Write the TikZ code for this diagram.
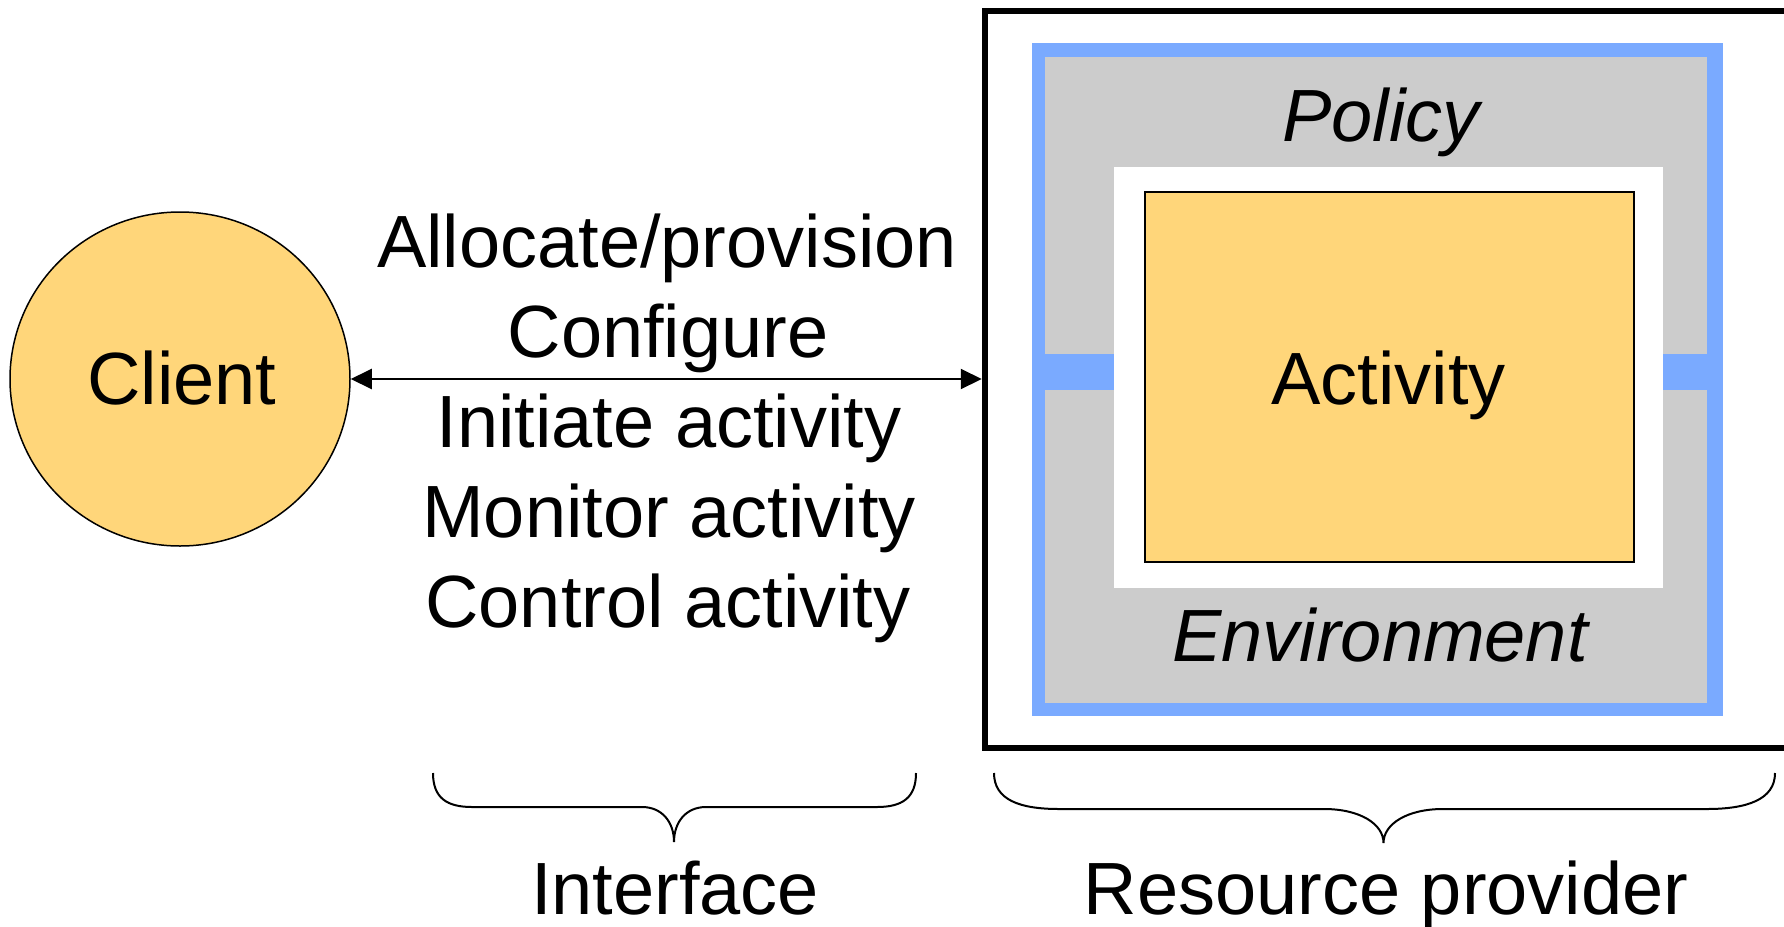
\documentclass[tikz,border=0pt]{standalone}
\usepackage{fontspec}
\setmainfont{Liberation Sans}
\usetikzlibrary{shapes.geometric,arrows.meta}
\definecolor{orng}{RGB}{255,214,122}
\definecolor{lblue}{RGB}{122,170,255}
\definecolor{lgray}{RGB}{204,204,204}
\begin{document}
\begin{tikzpicture}[x=1pt,y=-1pt,
  lbl/.style={inner sep=0pt, anchor=base, font=\fontsize{74}{90}\selectfont},
  ilbl/.style={lbl, font=\fontsize{74}{90}\selectfont\itshape},
  flat/.style={rectangle, inner sep=0pt, outer sep=0pt},
  bracepath/.style={line width=2pt},
  >={Triangle[length=21pt,width=20pt]}]
\useasboundingbox (0,0) rectangle (1784,926);
% client
\node[ellipse, draw, line width=1.5pt, fill=orng, minimum width=340pt, minimum height=334pt, inner sep=0pt] (client) at (180,379) {};
\node[lbl] (clientlbl) at (182,404) {Client};
% resource provider
\node[flat, draw, line width=6.5pt, outer sep=3.25pt, minimum width=802pt, minimum height=737pt] (frame) at (1386,379.5) {};
\node[flat, fill=lblue, minimum width=691pt, minimum height=673pt] (band) at (1377.5,379.5) {};
\node[flat, fill=lgray, minimum width=662pt, minimum height=646pt] (envbox) at (1376,380) {};
\node[flat, fill=lblue, minimum width=662pt, minimum height=36pt] (bar) at (1376,372) {};
\node[flat, fill=white, minimum width=549pt, minimum height=421pt] (hole) at (1388.5,377.5) {};
\node[flat, draw, line width=1.5pt, fill=orng, minimum width=489pt, minimum height=370pt] (activity) at (1389.5,377) {};
\node[lbl] (activitylbl) at (1388.5,404) {Activity};
\node[ilbl] (policy) at (1381,141) {Policy};
\node[ilbl] (environment) at (1380,661) {Environment};
% interface
\draw[line width=2pt, <->] (client.east) -- (client.east -| frame.west);
\node[lbl] (l1) at (667,267) {Allocate/provision};
\node[lbl] (l2) at (668,357) {Configure};
\node[lbl] (l3) at (669,447) {Initiate activity};
\node[lbl] (l4) at (669,537) {Monitor activity};
\node[lbl] (l5) at (668,627) {Control activity};
% braces
\draw[bracepath] (433,773) .. controls (433,798) and (447,807) .. (472,807) -- (642,807) .. controls (662,807) and (674,822) .. (674,842) .. controls (674,822) and (686,807) .. (706,807) -- (877,807) .. controls (902,807) and (916,798) .. (916,773);
\draw[bracepath] (994,773) .. controls (994,800) and (1020,809) .. (1059,809) -- (1324,809) .. controls (1360,809) and (1383.5,824) .. (1383.5,843) .. controls (1383.5,824) and (1407,809) .. (1443,809) -- (1707,809) .. controls (1746,809) and (1775,800) .. (1775,773);
\node[lbl] (interface) at (675,914) {Interface};
\node[lbl] (provider) at (1386,914) {Resource provider};
\end{tikzpicture}
\end{document}
